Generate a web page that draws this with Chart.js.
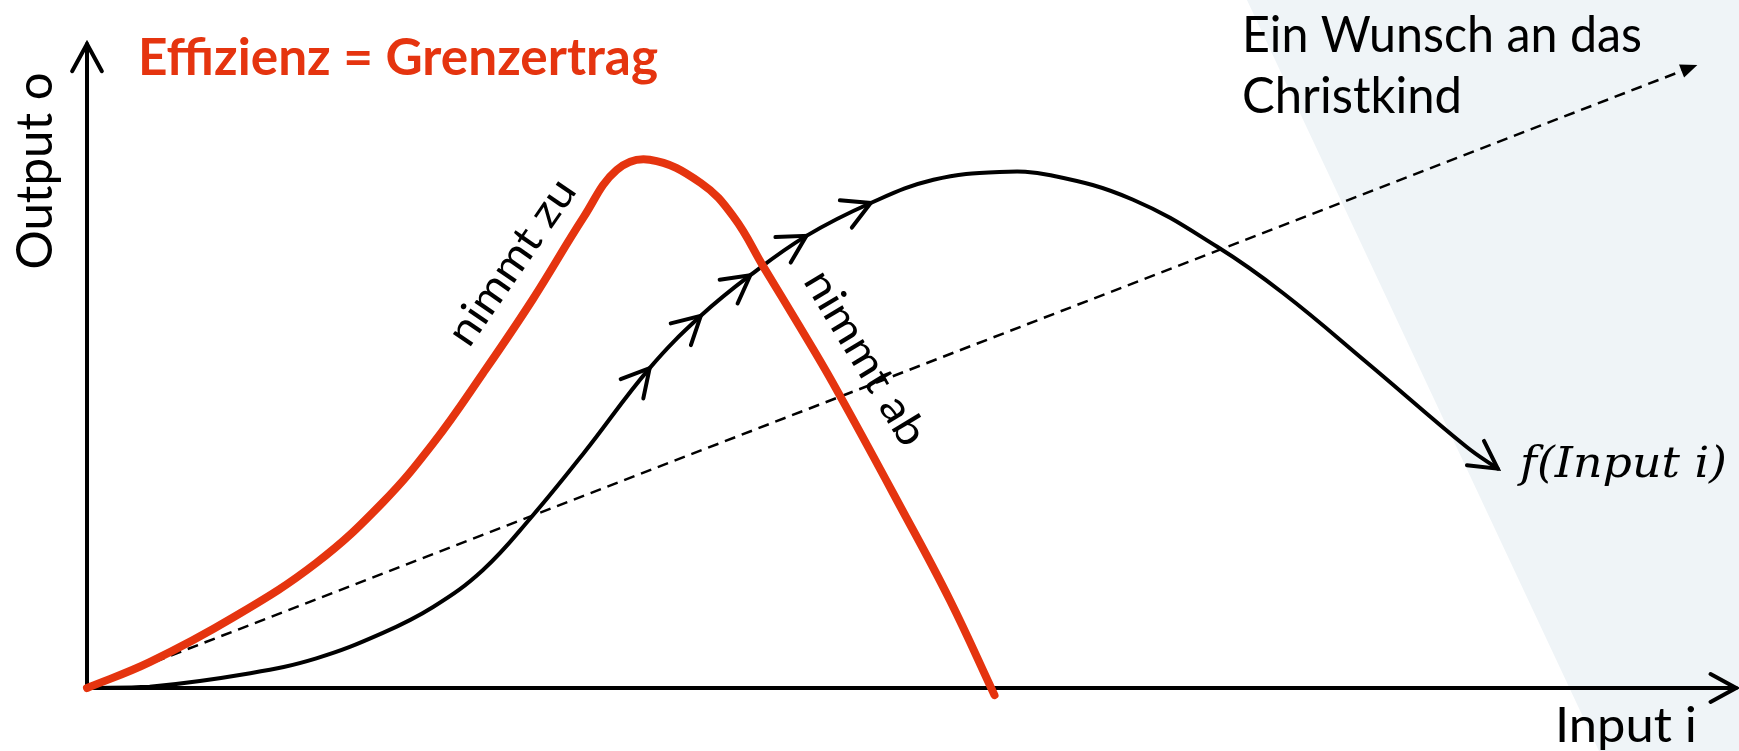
<!DOCTYPE html>
<html>
<head>
<meta charset="utf-8">
<script src="https://cdn.jsdelivr.net/npm/chart.js@4.4.1/dist/chart.umd.min.js"></script>
<style>
  html, body { margin: 0; padding: 0; background: #fff; }
  #wrap { width: 1739px; height: 751px; position: relative; }
</style>
</head>
<body>
<div id="wrap"><canvas id="chart"></canvas></div>
<script>
// Effizienz = Grenzertrag (red curve)
const effX = [0, 3.8, 8.9, 13.9, 17.9, 21.0, 24.0, 27.0, 30.1, 32.1, 34.1, 37.2, 39.2, 41.0, 43.2, 45.2, 49.3, 52.3, 55.0];
const effY = [0, 4.0, 11.0, 19.4, 28.7, 38.0, 48.8, 60.2, 73.0, 80.3, 81.9, 78.3, 73.0, 65.3, 56.0, 47.3, 28.1, 13.6, -1.1];

// f(Input i) (black curve)
const fX = [0, 3.8, 9.9, 13.9, 17.9, 21.0, 24.0, 26.9, 30.1, 34.1, 37.2, 40.2, 43.6, 47.5, 51.3, 55.3, 58.4, 63.4, 68.5, 72.5, 77.6, 83.6, 85.5];
const fY = [0, 0.2, 2.3, 4.6, 8.5, 12.6, 18.3, 26.4, 36.4, 49.6, 57.7, 64.0, 70.1, 75.2, 78.8, 80.0, 79.5, 75.7, 68.4, 61.2, 50.4, 37.4, 34.0];
// points of the black curve that carry a small arrow
const fArrowIdx = [9, 10, 11, 12, 13];

// "Ein Wunsch an das Christkind" (dashed line)
const wishX = [0, 97.6];
const wishY = [0, 96.6];

const RED = '#e5340f';

function pts(xs, ys) {
  return xs.map((x, i) => ({ x: x, y: ys[i] }));
}

function openHead(ctx, x, y, ang, len, spread) {
  ctx.beginPath();
  ctx.moveTo(x - len * Math.cos(ang - spread), y - len * Math.sin(ang - spread));
  ctx.lineTo(x, y);
  ctx.lineTo(x - len * Math.cos(ang + spread), y - len * Math.sin(ang + spread));
  ctx.stroke();
}

function fitText(ctx, text, x, y, w, rot) {
  ctx.save();
  ctx.translate(x, y);
  if (rot) ctx.rotate(rot);
  const m = ctx.measureText(text).width;
  ctx.scale(w / m, 1);
  ctx.fillText(text, 0, 0);
  ctx.restore();
}

const deco = {
  id: 'deco',
  beforeDraw(chart) {
    const { ctx, width, height } = chart;
    ctx.save();
    ctx.fillStyle = '#eff4f7';
    ctx.beginPath();
    ctx.moveTo(1247, 0);
    ctx.lineTo(width, 0);
    ctx.lineTo(width, height);
    ctx.lineTo(1599, height);
    ctx.closePath();
    ctx.fill();
    ctx.restore();
  },
  beforeDatasetsDraw(chart) {
    const { ctx, chartArea } = chart;
    const x0 = chart.scales.x.getPixelForValue(0);
    const y0 = chart.scales.y.getPixelForValue(0);
    ctx.save();
    ctx.strokeStyle = '#000';
    ctx.lineWidth = 4;
    ctx.lineCap = 'round';
    ctx.beginPath();
    ctx.moveTo(x0, y0);
    ctx.lineTo(chartArea.right - 1, y0);
    ctx.moveTo(x0, y0);
    ctx.lineTo(x0, chartArea.top + 1);
    ctx.stroke();
    openHead(ctx, chartArea.right - 1, y0, 0, 29, 0.5);
    openHead(ctx, x0, chartArea.top + 1, -Math.PI / 2, 31, 0.5);
    ctx.restore();
  },
  afterDatasetsDraw(chart) {
    const { ctx } = chart;
    ctx.save();
    ctx.strokeStyle = '#000';
    ctx.fillStyle = '#000';
    ctx.lineCap = 'round';
    ctx.lineWidth = 4;

    // arrows along f(Input i)
    const fm = chart.getDatasetMeta(1).data;
    fArrowIdx.forEach(i => {
      const a = fm[i - 1], b = fm[i + 1], p = fm[i];
      const ang = Math.atan2(b.y - a.y, b.x - a.x);
      openHead(ctx, p.x, p.y, ang, 31, 0.5);
    });
    const n = fm.length;
    const endAng = Math.atan2(fm[n - 1].y - fm[n - 2].y, fm[n - 1].x - fm[n - 2].x);
    openHead(ctx, fm[n - 1].x, fm[n - 1].y, endAng, 31, 0.5);

    // filled head of the dashed line
    const wm = chart.getDatasetMeta(2).data;
    const w0 = wm[0], w1 = wm[wm.length - 1];
    const wa = Math.atan2(w1.y - w0.y, w1.x - w0.x);
    ctx.beginPath();
    ctx.moveTo(w1.x, w1.y);
    ctx.lineTo(w1.x - 17 * Math.cos(wa) + 7 * Math.sin(wa), w1.y - 17 * Math.sin(wa) - 7 * Math.cos(wa));
    ctx.lineTo(w1.x - 17 * Math.cos(wa) - 7 * Math.sin(wa), w1.y - 17 * Math.sin(wa) + 7 * Math.cos(wa));
    ctx.closePath();
    ctx.fill();

    // texts
    ctx.textBaseline = 'alphabetic';
    ctx.textAlign = 'left';
    ctx.fillStyle = RED;
    ctx.font = 'bold 51px Lato';
    fitText(ctx, 'Effizienz = Grenzertrag', 138, 75, 520);

    ctx.fillStyle = '#000';
    ctx.font = '51px Lato';
    fitText(ctx, 'Ein Wunsch an das', 1242, 52, 400);
    fitText(ctx, 'Christkind', 1242, 113, 220);
    ctx.font = '49px Lato';
    fitText(ctx, 'Input i', 1555, 742, 142);
    ctx.font = 'italic 42px "DejaVu Serif"';
    fitText(ctx, 'f(Input i)', 1520, 477, 207);

    ctx.textAlign = 'center';
    ctx.font = '51px Lato';
    fitText(ctx, 'Output o', 52, 171, 197, -Math.PI / 2);

    ctx.textBaseline = 'middle';
    ctx.font = '43px Lato';
    fitText(ctx, 'nimmt zu', 512, 262, 192, -55.5 * Math.PI / 180);
    fitText(ctx, 'nimmt ab', 865, 358, 197, 59 * Math.PI / 180);
    ctx.restore();
  }
};

new Chart(document.getElementById('chart'), {
  type: 'line',
  data: {
    datasets: [
      {
        label: 'Effizienz = Grenzertrag',
        data: pts(effX, effY),
        borderColor: RED,
        borderWidth: 8,
        borderCapStyle: 'round',
        tension: 0.4,
        pointRadius: 0,
        clip: false,
        order: 0
      },
      {
        label: 'f(Input i)',
        data: pts(fX, fY),
        borderColor: '#000',
        borderWidth: 4,
        borderCapStyle: 'round',
        tension: 0.4,
        pointRadius: 0,
        clip: false,
        order: 1
      },
      {
        label: 'Ein Wunsch an das Christkind',
        data: pts(wishX, wishY),
        borderColor: '#000',
        borderWidth: 2.5,
        borderDash: [11, 7],
        pointRadius: 0,
        clip: false,
        order: 2
      }
    ]
  },
  options: {
    responsive: true,
    maintainAspectRatio: false,
    animation: false,
    layout: { padding: { left: 87, right: 2, top: 43, bottom: 63 } },
    scales: {
      x: { type: 'linear', min: 0, max: 100, display: false },
      y: { type: 'linear', min: 0, max: 100, display: false }
    },
    plugins: {
      legend: { display: false },
      tooltip: { enabled: false }
    }
  },
  plugins: [deco]
});
</script>
</body>
</html>
